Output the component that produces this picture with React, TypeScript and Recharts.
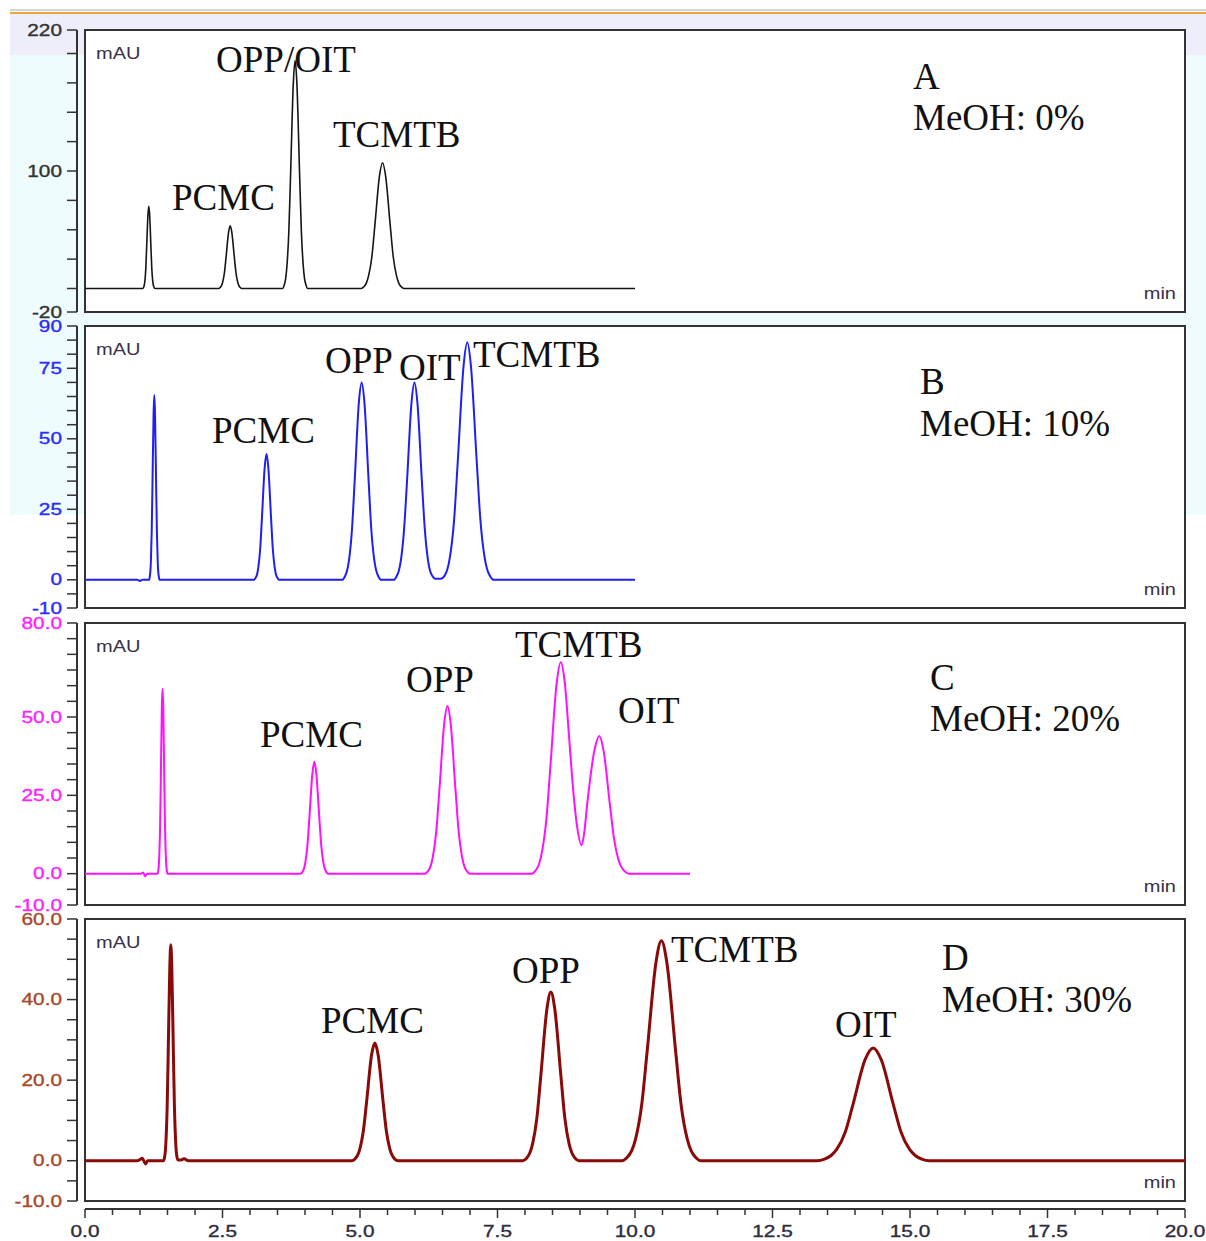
import React from "react";
import { LineChart, Line, XAxis, YAxis, ReferenceArea } from "recharts";

// retention time (min), absorbance (mAU)
const traceA = [
  [0, 0],
  [1.052, 0], [1.066, 1.1], [1.079, 3.2], [1.09, 7], [1.106, 17.5], [1.121, 35], [1.145, 63], [1.16, 70], [1.175, 63], [1.199, 35], [1.214, 17.5], [1.23, 7], [1.241, 3.2], [1.254, 1.1], [1.268, 0],
  [2.43, 0], [2.458, 0.8], [2.482, 2.4], [2.503, 5.3], [2.535, 13.4], [2.565, 26.7], [2.611, 48], [2.64, 53.4], [2.669, 48], [2.715, 26.7], [2.745, 13.4], [2.777, 5.3], [2.798, 2.4], [2.822, 0.8], [2.85, 0],
  [3.592, 0], [3.622, 2.9], [3.649, 8.7], [3.672, 19.4], [3.706, 48.5], [3.738, 97], [3.788, 175], [3.82, 194], [3.852, 175], [3.902, 97], [3.934, 48.5], [3.968, 19.4], [3.991, 8.7], [4.018, 2.9], [4.048, 0],
  [5.02, 0], [5.072, 1.6], [5.117, 4.8], [5.156, 10.7], [5.215, 26.8], [5.27, 53.5], [5.355, 96], [5.41, 107], [5.465, 96], [5.55, 53.5], [5.605, 26.8], [5.664, 10.7], [5.703, 4.8], [5.748, 1.6], [5.8, 0],
  [10, 0],
];

const traceB = [
  [0, 0], [0.95, 0], [1.0, -0.4], [1.04, 0],
  [1.164, 0], [1.177, 1], [1.188, 2.9], [1.198, 6.6], [1.212, 16.4], [1.226, 32.8], [1.247, 59], [1.26, 65.5], [1.273, 59], [1.294, 32.8], [1.308, 16.4], [1.322, 6.6], [1.332, 2.9], [1.343, 1], [1.356, 0],
  [3.072, 0], [3.102, 0.7], [3.129, 2], [3.152, 4.5], [3.186, 11.2], [3.218, 22.3], [3.268, 40.1], [3.3, 44.6], [3.332, 40.1], [3.382, 22.3], [3.414, 11.2], [3.448, 4.5], [3.471, 2], [3.498, 0.7], [3.528, 0],
  [4.676, 0], [4.723, 1.1], [4.764, 3.2], [4.8, 7], [4.853, 17.5], [4.903, 35], [4.98, 63], [5.03, 70], [5.08, 63], [5.157, 35], [5.207, 17.5], [5.26, 7], [5.296, 3.2], [5.337, 1.1], [5.384, 0],
  [5.612, 0], [5.662, 1.1], [5.706, 3.2], [5.744, 7], [5.8, 17.5], [5.855, 35], [5.937, 63], [5.99, 70], [6.043, 63], [6.125, 35], [6.18, 17.5], [6.236, 7], [6.274, 3.2], [6.318, 1.3], [6.368, 0.4],
  [6.47, 0.4], [6.534, 1.3], [6.59, 3.8], [6.638, 8.4], [6.71, 21], [6.778, 42.1], [6.883, 75.8], [6.95, 84.2], [7.017, 75.8], [7.122, 42.1], [7.19, 21], [7.262, 8.4], [7.31, 3.8], [7.366, 1.3], [7.43, 0],
  [10, 0],
];

const traceC = [
  [0, 0], [1.02, 0], [1.06, 0.4], [1.09, -0.8], [1.13, 0],
  [1.32, 0], [1.332, 0.9], [1.342, 2.7], [1.351, 5.9], [1.365, 14.8], [1.378, 29.5], [1.397, 53.1], [1.41, 59], [1.423, 53.1], [1.442, 29.5], [1.455, 14.8], [1.469, 5.9], [1.478, 2.7], [1.488, 0.9], [1.5, 0],
  [3.918, 0], [3.952, 0.5], [3.981, 1.6], [4.006, 3.6], [4.044, 8.9], [4.08, 17.9], [4.135, 32.1], [4.17, 35.7], [4.205, 32.1], [4.26, 17.9], [4.296, 8.9], [4.334, 3.6], [4.359, 1.6], [4.388, 0.5], [4.422, 0],
  [6.182, 0], [6.236, 0.8], [6.284, 2.4], [6.325, 5.4], [6.386, 13.4], [6.444, 26.8], [6.533, 48.2], [6.59, 53.5], [6.647, 48.2], [6.736, 26.8], [6.794, 13.4], [6.855, 5.4], [6.896, 2.4], [6.944, 0.8], [6.998, 0],
  [8.122, 0], [8.192, 1], [8.254, 3], [8.307, 6.8], [8.386, 16.9], [8.46, 33.8], [8.576, 60.8], [8.65, 67.5], [8.724, 60.8], [8.8, 44], [8.86, 30], [8.94, 16], [9.03, 9.1],
  [9.08, 13.5], [9.13, 22], [9.27, 40], [9.35, 43.9], [9.426, 39.5], [9.544, 22], [9.62, 11], [9.7, 4.4], [9.755, 2], [9.818, 0.7], [9.89, 0],
  [11, 0],
];

const traceD = [
  [0, 0], [0.95, 0], [1.0, 0.3], [1.04, 0.6], [1.08, -0.3], [1.1, -0.8], [1.14, 0],
  [1.428, 0], [1.446, 0.8], [1.461, 2.4], [1.474, 5.4], [1.494, 13.4], [1.513, 26.8], [1.542, 48.2], [1.56, 53.6], [1.578, 48.2], [1.607, 26.8], [1.626, 13.4], [1.646, 5.4], [1.659, 2.4], [1.674, 0.8], [1.692, 0.2], [1.75, 0.2], [1.8, 0.5], [1.88, 0],
  [4.85, 0], [4.906, 0.4], [4.955, 1.3], [4.997, 2.9], [5.06, 7.3], [5.12, 14.6], [5.211, 26.3], [5.27, 29.2], [5.329, 26.3], [5.42, 14.6], [5.48, 7.3], [5.543, 2.9], [5.585, 1.3], [5.634, 0.4], [5.69, 0],
  [7.96, 0], [8.028, 0.6], [8.087, 1.9], [8.138, 4.2], [8.215, 10.5], [8.287, 21], [8.399, 37.7], [8.47, 41.9], [8.541, 37.7], [8.653, 21], [8.725, 10.5], [8.802, 4.2], [8.853, 1.9], [8.912, 0.6], [8.98, 0],
  [9.76, 0], [9.856, 0.8], [9.94, 2.5], [10.012, 5.5], [10.12, 13.7], [10.222, 27.3], [10.38, 49.1], [10.48, 54.6], [10.58, 49.1], [10.738, 27.3], [10.84, 13.7], [10.948, 5.5], [11.02, 2.5], [11.104, 0.8], [11.2, 0],
  [13.31, 0], [13.446, 0.4], [13.565, 1.3], [13.667, 2.8], [13.82, 7], [13.964, 14], [14.187, 25.2], [14.33, 28], [14.473, 25.2], [14.696, 14], [14.84, 7], [14.993, 2.8], [15.095, 1.3], [15.214, 0.4], [15.35, 0],
  [20, 0],
];

const ticksA = [-20, 0, 25, 50, 75, 100, 125, 150, 175, 200, 220];
const labelsA = [220, 100, -20];
const ticksB = [-10, -5, 0, 5, 10, 15, 20, 25, 30, 35, 40, 45, 50, 55, 60, 65, 70, 75, 80, 85, 90];
const labelsB = [90, 75, 50, 25, 0, -10];
const ticksC = [-10, -5, 0, 5, 10, 15, 20, 25, 30, 35, 40, 45, 50, 55, 60, 65, 70, 75, 80];
const labelsC = [80, 50, 25, 0, -10];
const ticksD = [-10, -5, 0, 5, 10, 15, 20, 25, 30, 35, 40, 45, 50, 55, 60];
const labelsD = [60, 40, 20, 0, -10];

const xTicks = [0, 0.5, 1, 1.5, 2, 2.5, 3, 3.5, 4, 4.5, 5, 5.5, 6, 6.5, 7, 7.5, 8, 8.5, 9, 9.5, 10,
  10.5, 11, 11.5, 12, 12.5, 13, 13.5, 14, 14.5, 15, 15.5, 16, 16.5, 17, 17.5, 18, 18.5, 19, 19.5, 20];
const xLabels = [0, 2.5, 5, 7.5, 10, 12.5, 15, 17.5, 20];

const peakNames = ["PCMC", "OPP", "OIT", "TCMTB", "OPP/OIT"];
const methanol = ["0%", "10%", "20%", "30%"];

const W = 1206;
const LEFT = 85;
const RIGHT = 1185;
const PH = 282;
const uiFont = "'Liberation Sans', Arial, sans-serif";
const serif = "'Liberation Serif', 'Times New Roman', serif";

const toRows = (arr: number[][]) => arr.map(([t, v]) => ({ t, v }));

function YTick(props: any) {
  const { x, y, payload, labels, fixed, color } = props;
  const v = payload.value;
  const show = labels.includes(v);
  return (
    <g>
      <line x1={x - 18} x2={x - 8} y1={y} y2={y} stroke="#333" strokeWidth={1.5} />
      {show && (
        <text transform={`translate(${x - 23},${y + 5.5}) scale(1.3,1)`} textAnchor="end" fontSize={16} fontFamily={uiFont}
          fill={color} stroke={color} strokeWidth={0.35}>
          {fixed ? v.toFixed(1) : String(v)}
        </text>
      )}
    </g>
  );
}

function XTick(props: any) {
  const { x, y, payload } = props;
  const v = payload.value;
  const major = xLabels.includes(v);
  return (
    <g>
      <line x1={x} x2={x} y1={y + 8} y2={y + (major ? 17 : 14)} stroke="#333" strokeWidth={1.5} />
      {major && (
        <text transform={`translate(${x},${y + 36}) scale(1.3,1)`} textAnchor="middle" fontSize={16} fontFamily={uiFont}
          fill="#2d2d3d" stroke="#2d2d3d" strokeWidth={0.35}>
          {v.toFixed(1)}
        </text>
      )}
    </g>
  );
}

function Panel(p: any) {
  const h = p.showX ? 10 + PH + 40 : PH + 20;
  return (
    <div style={{ position: "absolute", left: 0, top: p.top - 10 }}>
      <LineChart width={W} height={h} data={toRows(p.trace)} margin={{ top: 10, right: W - RIGHT, bottom: p.showX ? 0 : 10, left: 0 }}>
        <XAxis dataKey="t" type="number" domain={[0, 20]} ticks={xTicks} interval={0} hide={!p.showX} height={40}
          axisLine={false} tickLine={false} tickSize={0} tickMargin={0} tick={<XTick />} />
        <YAxis type="number" domain={p.domain} ticks={p.ticks} interval={0} width={LEFT} allowDataOverflow
          axisLine={false} tickLine={false} tickSize={0} tickMargin={0}
          tick={<YTick labels={p.labels} fixed={p.fixed} color={p.labelColor} />} />
        <ReferenceArea x1={0} x2={20} y1={p.domain[0]} y2={p.domain[1]} fill="#ffffff" fillOpacity={1} stroke="#333" strokeWidth={2} ifOverflow="visible" />
        <Line dataKey="v" type="monotone" stroke={p.color} strokeWidth={p.width} dot={false} activeDot={false} isAnimationActive={false} />
      </LineChart>
    </div>
  );
}

const panels = [
  { top: 30, trace: traceA, domain: [-20, 220], ticks: ticksA, labels: labelsA, fixed: false, color: "#151515", width: 1.6, labelColor: "#333" },
  { top: 326, trace: traceB, domain: [-10, 90], ticks: ticksB, labels: labelsB, fixed: false, color: "#1f1ff5", width: 2, labelColor: "#2b2bff" },
  { top: 623, trace: traceC, domain: [-10, 80], ticks: ticksC, labels: labelsC, fixed: true, color: "#ff10ff", width: 2, labelColor: "#ff22ff" },
  { top: 919, trace: traceD, domain: [-10, 60], ticks: ticksD, labels: labelsD, fixed: true, color: "#8a0a0a", width: 3, labelColor: "#a8482a" },
];

// annotation layout: [text, left x, baseline y]
const notes: [string, number, number][] = [
  [peakNames[4], 216, 72], [peakNames[0], 172, 210], [peakNames[3], 333, 147], ["A", 913, 89], ["MeOH: " + methanol[0], 913, 130],
  [peakNames[0], 212, 443], [peakNames[1], 325, 373], [peakNames[2], 399, 380], [peakNames[3], 473, 367], ["B", 920, 394], ["MeOH: " + methanol[1], 920, 436],
  [peakNames[0], 260, 747], [peakNames[1], 406, 692], [peakNames[3], 515, 657], [peakNames[2], 618, 723], ["C", 930, 690], ["MeOH: " + methanol[2], 930, 731],
  [peakNames[0], 321, 1033], [peakNames[1], 512, 983], [peakNames[3], 671, 962], [peakNames[2], 835, 1037], ["D", 942, 970], ["MeOH: " + methanol[3], 942, 1012],
];

export default function App() {
  return (
    <div style={{ position: "absolute", left: 0, top: 0, width: W, height: 1241, background: "#fff", overflow: "hidden" }}>
      <div style={{ position: "absolute", left: 10, top: 9, width: W - 10, height: 2, background: "#d4d4d4" }} />
      <div style={{ position: "absolute", left: 10, top: 12, width: W - 10, height: 2, background: "#f0a43c" }} />
      <div style={{ position: "absolute", left: 10, top: 14, width: W - 10, height: 41, background: "#eeedfa" }} />
      <div style={{ position: "absolute", left: 10, top: 55, width: W - 10, height: 460, background: "#eefcfd" }} />

      {panels.map((p, i) => (
        <Panel key={i} {...p} showX={i === 3} />
      ))}

      {panels.map((p, i) => (
        <div key={"ax" + i} style={{ position: "absolute", left: 76, top: p.top, width: 2, height: PH, background: "#333" }} />
      ))}
      <div style={{ position: "absolute", left: LEFT, top: 1208, width: RIGHT - LEFT, height: 2, background: "#333" }} />

      <svg width={W} height={1241} style={{ position: "absolute", left: 0, top: 0, pointerEvents: "none" }}>
        {panels.map((p, i) => (
          <g key={"u" + i}>
            <text transform={`translate(96,${p.top + 29}) scale(1.25,1)`} fontSize={16} fontFamily={uiFont} fill="#3a2f45">mAU</text>
            <text transform={`translate(1176,${p.top + PH - 13}) scale(1.25,1)`} textAnchor="end" fontSize={16} fontFamily={uiFont} fill="#3a2f45">min</text>
          </g>
        ))}
        {notes.map(([s, x, y], i) => (
          <text key={"n" + i} x={x} y={y} fontSize={37} fontFamily={serif} fill="#111">{s}</text>
        ))}
      </svg>
    </div>
  );
}
